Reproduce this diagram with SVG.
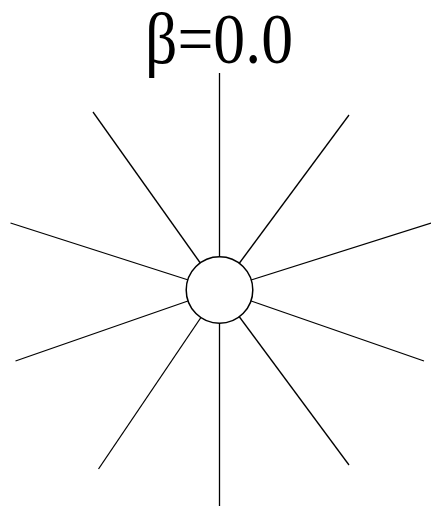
<svg xmlns="http://www.w3.org/2000/svg" width="431" height="507" viewBox="0 0 431 507">
<style>
.ray{stroke:#000;stroke-width:1.3;fill:none}
.hub{stroke:#000;stroke-width:1.5;fill:#fff}
.title{font-family:"Liberation Serif","Times New Roman",serif;font-size:72px;fill:#000}
</style>
<rect width="431" height="507" fill="#fff"/>
<g id="connectors">
<line class="ray" x1="219.5" y1="290" x2="219.5" y2="73"/>
<line class="ray" x1="219.5" y1="290" x2="349" y2="115"/>
<line class="ray" x1="219.5" y1="290" x2="431" y2="223"/>
<line class="ray" x1="219.5" y1="290" x2="424" y2="361"/>
<line class="ray" x1="219.5" y1="290" x2="349" y2="465"/>
<line class="ray" x1="219.5" y1="290" x2="219.5" y2="506"/>
<line class="ray" x1="219.5" y1="290" x2="98.5" y2="469"/>
<line class="ray" x1="219.5" y1="290" x2="15.5" y2="361"/>
<line class="ray" x1="219.5" y1="290" x2="10.5" y2="223"/>
<line class="ray" x1="219.5" y1="290" x2="93" y2="112"/>
</g>
<g id="hub">
<circle class="hub" cx="219.5" cy="290" r="33.3"/>
</g>
<g id="title">
<text class="title" x="219" y="63" text-anchor="middle" textLength="148" lengthAdjust="spacingAndGlyphs">β=0.0</text>
</g>
</svg>
